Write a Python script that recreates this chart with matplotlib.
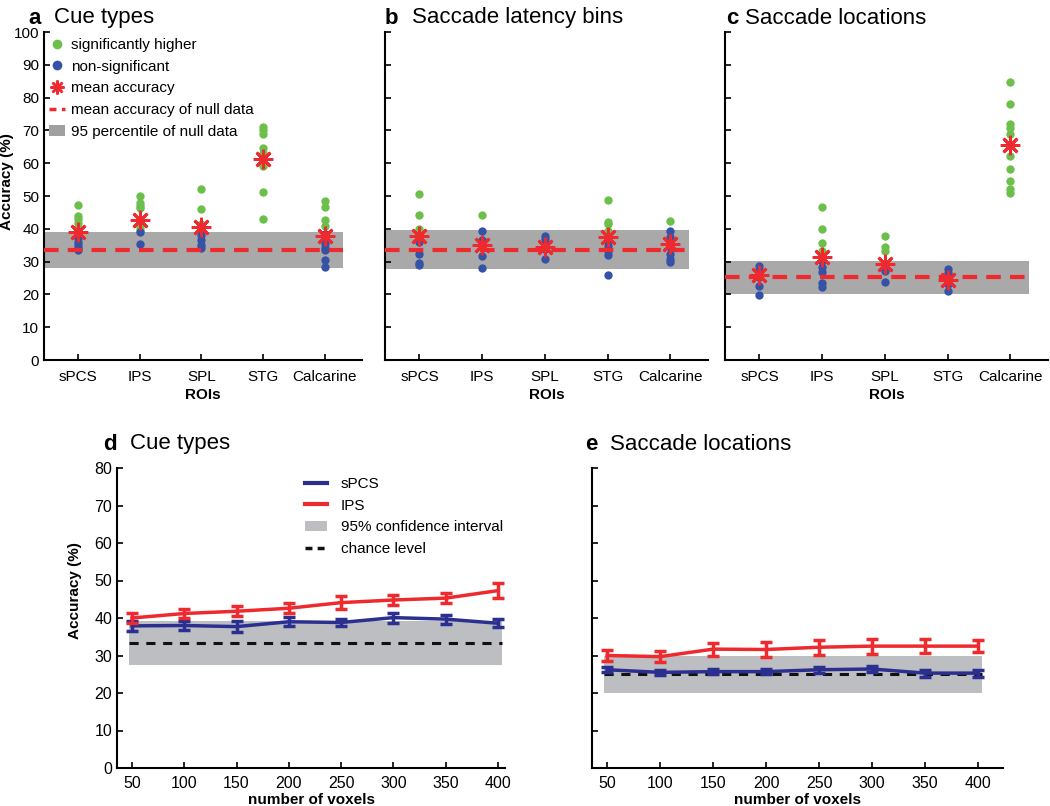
import numpy as np
import matplotlib
matplotlib.use("Agg")
import matplotlib.pyplot as plt
from matplotlib.lines import Line2D
from matplotlib.patches import Patch

plt.rcParams['font.family'] = ['Liberation Sans', 'DejaVu Sans']

ROIS = ["sPCS", "IPS", "SPL", "STG", "Calcarine"]

# panel a: cue types
CUE_SIG = [[47.3, 44.0, 43.0, 41.8, 40.5],
           [50.0, 48.0, 47.0, 46.2, 40.5, 39.6],
           [52.0, 46.1, 41.6],
           [71.0, 70.0, 68.8, 64.6, 63.2, 61.5, 59.0, 51.1, 43.0],
           [48.5, 46.7, 42.6, 40.8]]
CUE_NS = [[38.5, 37.2, 36.0, 35.0, 34.2, 33.6],
          [38.9, 35.3],
          [39.5, 38.0, 36.5, 35.0, 34.0],
          [],
          [38.5, 37.0, 35.5, 34.0, 33.5, 30.5, 28.4]]
CUE_MEAN = [39.1, 42.8, 40.4, 61.2, 37.8]
CUE_BAND = [28.1, 39.1]
CUE_NULL = 33.4

# panel b: saccade latency bins
LAT_SIG = [[50.5, 44.1, 39.9], [44.2], [], [48.7, 42.2, 41.6, 39.4], [42.4]]
LAT_NS = [[36.9, 35.9, 32.3, 29.5, 29.0],
          [39.2, 36.6, 34.3, 31.6, 28.0],
          [37.9, 36.9, 35.6, 33.8, 30.8],
          [36.4, 34.8, 33.3, 32.1, 25.8],
          [39.4, 37.4, 34.3, 32.3, 30.8, 29.8]]
LAT_MEAN = [37.9, 35.1, 34.5, 37.6, 35.4]
LAT_BAND = [27.8, 39.6]
LAT_NULL = 33.6

# panel c: saccade locations
LOC_SIG = [[], [46.5, 40.0, 35.6, 33.1], [37.7, 34.3, 33.1], [],
           [84.8, 78.0, 72.1, 70.7, 69.0, 62.1, 58.1, 54.5, 52.0, 50.8]]
LOC_NS = [[28.8, 27.3, 25.3, 22.7, 19.7],
          [30.3, 28.3, 26.8, 23.4, 22.2],
          [27.1, 23.7],
          [27.8, 26.5, 23.2, 21.0],
          []]
LOC_MEAN = [25.8, 31.5, 29.3, 24.4, 65.4]
LOC_BAND = [20.1, 30.3]
LOC_NULL = 25.2

# panels d, e: accuracy vs number of voxels
VOXELS = [50, 100, 150, 200, 250, 300, 350, 400]
D_SPCS = [37.9, 38.0, 37.7, 39.0, 38.8, 40.1, 39.7, 38.6]
D_SPCS_ERR = [1.3, 1.3, 1.5, 1.2, 0.9, 1.3, 1.2, 1.1]
D_IPS = [40.0, 41.2, 41.8, 42.6, 44.1, 44.8, 45.3, 47.3]
D_IPS_ERR = [1.3, 1.3, 1.3, 1.3, 1.8, 1.4, 1.4, 2.0]
D_BAND = [27.5, 39.2]
D_CHANCE = 33.3

E_SPCS = [26.2, 25.5, 25.7, 25.7, 26.2, 26.4, 25.3, 25.3]
E_SPCS_ERR = [0.7, 0.6, 0.7, 0.7, 0.8, 0.8, 0.9, 0.9]
E_IPS = [30.0, 29.7, 31.7, 31.6, 32.2, 32.5, 32.5, 32.5]
E_IPS_ERR = [1.4, 1.5, 1.7, 1.9, 2.0, 2.0, 1.8, 1.6]
E_BAND = [20.0, 30.0]
E_CHANCE = 25.0

GREEN = "#6cbf4a"
BLUE = "#3452a6"
RED = "#ee2a2e"
NAVY = "#2b2f8f"
STAR = (8, 2, 0)

W, H = 1050, 806
fig = plt.figure(figsize=(W / 100, H / 100), dpi=100)


def px_axes(left, top, right, bottom):
    return fig.add_axes([left / W, 1 - bottom / H, (right - left) / W, (bottom - top) / H])


def style(ax, lw=1.5):
    for s in ("top", "right"):
        ax.spines[s].set_visible(False)
    for s in ("left", "bottom"):
        ax.spines[s].set_linewidth(lw)
    ax.tick_params(direction="in", length=4, width=1.2)


def roi_panel(ax, sig, ns, mean, band, null, show_y):
    x = np.arange(1, len(ROIS) + 1)
    ax.fill_between([0.45, 5.3], band[0], band[1], color="#a9a9a9", lw=0, zorder=1)
    for i in range(len(ROIS)):
        if sig[i]:
            ax.plot([x[i]] * len(sig[i]), sig[i], "o", color=GREEN, ms=6, mec="none", zorder=2)
        if ns[i]:
            ax.plot([x[i]] * len(ns[i]), ns[i], "o", color=BLUE, ms=6, mec="none", zorder=2)
    ax.plot([0.45, 5.3], [null, null], "--", color=RED, lw=3, dashes=(3.5, 2.2), zorder=3)
    ax.plot(x, mean, ls="none", marker=STAR, ms=14, mew=2, color=RED, zorder=4)
    ax.set_xlim(0.45, 5.6)
    ax.set_ylim(0, 100)
    ax.set_xticks(x)
    ax.set_xticklabels(ROIS, fontsize=11)
    ax.set_yticks(range(0, 101, 10))
    ax.tick_params(axis="x", pad=7.5)
    if show_y:
        ax.set_yticklabels([str(v) for v in range(0, 101, 10)], fontsize=11)
        ax.set_ylabel("Accuracy (%)", fontsize=11, fontweight="bold")
        ax.yaxis.set_label_coords(-0.094, 0.543)
    else:
        ax.set_yticklabels([])
    ax.set_xlabel("ROIs", fontsize=11, fontweight="bold", labelpad=2.5)
    style(ax)


def voxel_panel(ax, spcs, spcs_err, ips, ips_err, band, chance, xmax, show_y):
    ax.fill_between([47, 404], band[0], band[1], color="#bdbec1", lw=0, zorder=1)
    ax.plot([47, 404], [chance, chance], "--", color="#111111", lw=2.2, dashes=(3, 2.5), zorder=2)
    ax.errorbar(VOXELS, spcs, yerr=spcs_err, color=NAVY, lw=2.5, elinewidth=2.5,
                capsize=4, capthick=2.5, zorder=3)
    ax.errorbar(VOXELS, ips, yerr=ips_err, color=RED, lw=2.5, elinewidth=2.5,
                capsize=4.5, capthick=2.5, zorder=4)
    ax.set_xlim(35.7, xmax)
    ax.set_ylim(0, 80)
    ax.set_xticks(VOXELS)
    ax.set_xticklabels([str(v) for v in VOXELS], fontsize=11.5)
    ax.set_yticks(range(0, 81, 10))
    ax.tick_params(axis="x", pad=5.5)
    if show_y:
        ax.set_yticklabels([str(v) for v in range(0, 81, 10)], fontsize=11.5)
        ax.set_ylabel("Accuracy (%)", fontsize=11, fontweight="bold")
        ax.yaxis.set_label_coords(-0.09, 0.593)
    else:
        ax.set_yticklabels([])
    ax.set_xlabel("number of voxels", fontsize=11, fontweight="bold", labelpad=1.5)
    style(ax)


ax_a = px_axes(44, 32, 362, 360)
ax_b = px_axes(385, 32, 708, 360)
ax_c = px_axes(725, 32, 1048, 360)
ax_d = px_axes(117, 468, 505, 768)
ax_e = px_axes(592, 468, 1003, 768)

roi_panel(ax_a, CUE_SIG, CUE_NS, CUE_MEAN, CUE_BAND, CUE_NULL, True)
roi_panel(ax_b, LAT_SIG, LAT_NS, LAT_MEAN, LAT_BAND, LAT_NULL, False)
roi_panel(ax_c, LOC_SIG, LOC_NS, LOC_MEAN, LOC_BAND, LOC_NULL, False)
voxel_panel(ax_d, D_SPCS, D_SPCS_ERR, D_IPS, D_IPS_ERR, D_BAND, D_CHANCE, 406.7, True)
voxel_panel(ax_e, E_SPCS, E_SPCS_ERR, E_IPS, E_IPS_ERR, E_BAND, E_CHANCE, 423.6, False)

# legend panel a
handles_a = [
    Line2D([], [], ls="none", marker="o", color=GREEN, ms=7, mec="none"),
    Line2D([], [], ls="none", marker="o", color=BLUE, ms=7, mec="none"),
    Line2D([], [], ls="none", marker=STAR, color=RED, ms=10, mew=1.8),
    Line2D([], [], color=RED, ls="--", lw=2.5, dashes=(2, 1.6)),
    Patch(facecolor="#a0a0a0", edgecolor="none"),
]
labels_a = ["significantly higher", "non-significant", "mean accuracy",
            "mean accuracy of null data", "95 percentile of null data"]
ax_a.legend(handles_a, labels_a, loc="upper left", bbox_to_anchor=(-0.005, 1.0),
            frameon=False, fontsize=11, handlelength=1.1, handletextpad=0.35,
            labelspacing=0.5, borderaxespad=0)

# legend panel d
handles_d = [
    Line2D([], [], color=NAVY, lw=3),
    Line2D([], [], color=RED, lw=3),
    Patch(facecolor="#bdbec1", edgecolor="none"),
    Line2D([], [], color="#111111", ls="--", lw=2.5, dashes=(2, 1.5)),
]
labels_d = ["sPCS", "IPS", "95% confidence interval", "chance level"]
ax_d.legend(handles_d, labels_d, loc="upper left", bbox_to_anchor=(0.47, 0.99),
            frameon=False, fontsize=11, handlelength=1.4, handletextpad=0.9,
            labelspacing=0.5, borderaxespad=0)

# panel titles
titles = [(28, 18, "a", "Cue types", 54),
          (385, 18, "b", "Saccade latency bins", 412),
          (726, 18, "c", "Saccade locations", 745),
          (103, 444, "d", "Cue types", 130),
          (585, 444, "e", "Saccade locations", 610)]
for lx, ly, letter, text, tx in titles:
    fig.text(lx / W, 1 - ly / H, letter, fontsize=16, fontweight="bold", va="center", ha="left")
    fig.text(tx / W, 1 - ly / H, text, fontsize=16, va="center", ha="left")

fig.savefig("out.png", dpi=100)
